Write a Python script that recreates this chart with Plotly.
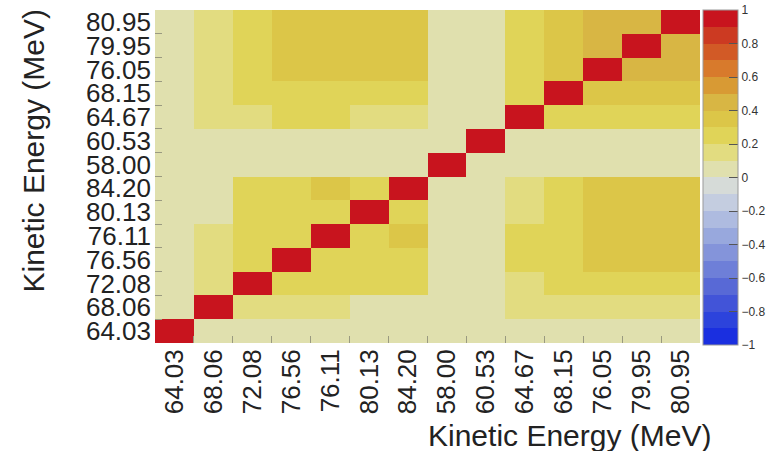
import plotly.graph_objects as go

# Bin labels (kinetic energy, MeV) in matrix order
energy_labels = ["64.03", "68.06", "72.08", "76.56", "76.11", "80.13", "84.20",
                 "58.00", "60.53", "64.67", "68.15", "76.05", "79.95", "80.95"]

# Upper triangle of the correlation matrix (row i, columns i+1 .. 13)
upper_rows = [
    [0.05, 0.05, 0.05, 0.05, 0.05, 0.05, 0.02, 0.02, 0.05, 0.05, 0.05, 0.05, 0.05],
    [0.15, 0.15, 0.15, 0.05, 0.05, 0.02, 0.02, 0.15, 0.15, 0.15, 0.15, 0.15],
    [0.25, 0.25, 0.25, 0.25, 0.02, 0.02, 0.15, 0.25, 0.25, 0.25, 0.25],
    [0.25, 0.25, 0.25, 0.02, 0.02, 0.25, 0.25, 0.35, 0.35, 0.35],
    [0.25, 0.35, 0.02, 0.02, 0.25, 0.25, 0.35, 0.35, 0.35],
    [0.25, 0.02, 0.02, 0.15, 0.25, 0.35, 0.35, 0.35],
    [0.02, 0.02, 0.15, 0.25, 0.35, 0.35, 0.35],
    [0.05, 0.02, 0.02, 0.02, 0.02, 0.02],
    [0.02, 0.02, 0.02, 0.02, 0.02],
    [0.22, 0.22, 0.22, 0.22],
    [0.35, 0.35, 0.35],
    [0.45, 0.45],
    [0.45],
]

# Palette bands from -1 to 1 in steps of 0.1
band_colors = [
    "#1a2fe0", "#2c43dc", "#4254d8", "#5869d6", "#6e7fd8",
    "#8494da", "#98a8dd", "#aebbe0", "#c4cde0", "#d6dbd8",
    "#e0e0ae", "#e2dc80", "#e0d458", "#dcc648", "#d8b644",
    "#d89a34", "#d87a2c", "#d25a26", "#cc3a22", "#c8141e",
]

cb_ticks = [-1, -0.8, -0.6, -0.4, -0.2, 0, 0.2, 0.4, 0.6, 0.8, 1]
cb_ticktext = ["−1", "−0.8", "−0.6", "−0.4", "−0.2", "0", "0.2", "0.4", "0.6", "0.8", "1"]

n = len(energy_labels)
corr = [[1.0 if i == j else 0.0 for j in range(n)] for i in range(n)]
for i, row in enumerate(upper_rows):
    for k, v in enumerate(row):
        j = i + 1 + k
        corr[i][j] = v
        corr[j][i] = v

nb = len(band_colors)
colorscale = []
for b, c in enumerate(band_colors):
    colorscale.append([b / nb, c])
    colorscale.append([(b + 1) / nb, c])

idx = list(range(n))
bounds = [k + 0.5 for k in range(n - 1)]

fig = go.Figure(go.Heatmap(
    z=corr, x=idx, y=idx,
    zmin=-1, zmax=1,
    colorscale=colorscale,
    colorbar=dict(
        x=1.0055, xanchor="left", xref="paper",
        y=1.0, yanchor="top",
        thickness=35, thicknessmode="pixels",
        len=335, lenmode="pixels",
        xpad=0, ypad=0,
        outlinewidth=1, outlinecolor="#999999",
        tickmode="array", tickvals=cb_ticks, ticktext=cb_ticktext,
        ticks="inside", ticklen=9, tickcolor="#555555",
        tickfont=dict(family="Liberation Sans, Arial, sans-serif", size=12, color="#333333"),
    ),
    hoverongaps=False,
))

tick_font = dict(family="Liberation Sans, Arial, sans-serif", size=26, color="#222222")
title_font = dict(family="Liberation Sans, Arial, sans-serif", size=30, color="#222222")

fig.update_xaxes(
    range=[-0.5, n - 0.5], tickmode="array", tickvals=idx, ticktext=energy_labels,
    tickangle=-90, ticks="", tickfont=tick_font, showgrid=False, zeroline=False,
    minor=dict(tickmode="array", tickvals=bounds, ticks="inside", ticklen=7,
               tickcolor="#9a9a80", tickwidth=1, showgrid=False),
)
fig.update_yaxes(
    range=[-0.5, n - 0.5], tickmode="array", tickvals=idx, ticktext=energy_labels,
    ticks="", tickfont=tick_font, showgrid=False, zeroline=False,
    ticklabelstandoff=3,
    minor=dict(tickmode="array", tickvals=bounds, ticks="inside", ticklen=7,
               tickcolor="#9a9a80", tickwidth=1, showgrid=False),
)

fig.add_annotation(
    text="Kinetic Energy (MeV)", xref="paper", yref="paper",
    x=1, y=0, xanchor="right", yanchor="middle", xshift=13, yshift=-92,
    showarrow=False, font=title_font,
)
fig.add_annotation(
    text="Kinetic Energy (MeV)", xref="paper", yref="paper",
    x=0, y=1, xanchor="center", yanchor="top", xshift=-122, yshift=2,
    textangle=-90, showarrow=False, font=title_font,
)

fig.update_layout(
    width=768, height=451,
    margin=dict(l=155, r=68, t=10, b=108, autoexpand=False),
    paper_bgcolor="white", plot_bgcolor="white",
    showlegend=False,
)

fig.write_html("out.html")
